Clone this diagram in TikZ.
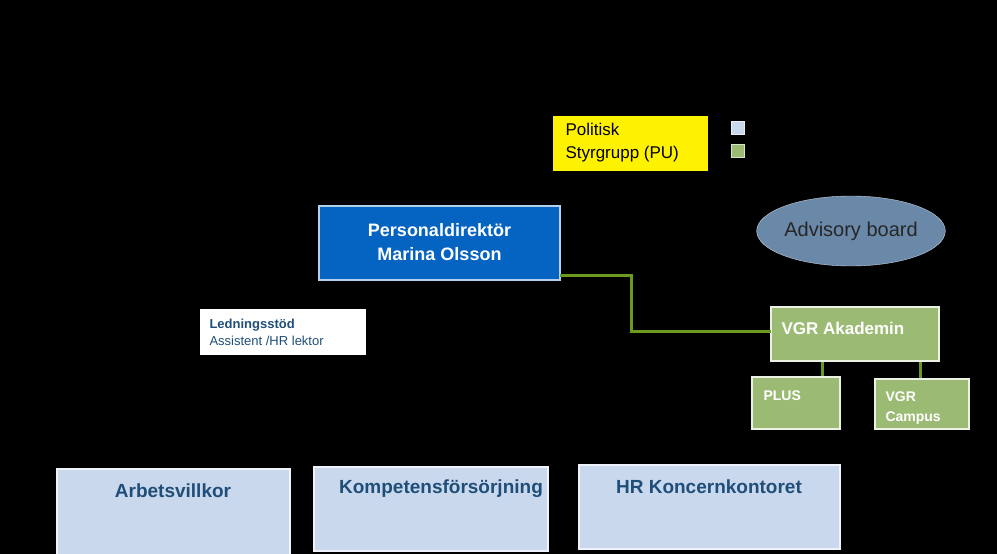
\documentclass[tikz,border=0pt]{standalone}
\usepackage{fontspec}
\setmainfont{Liberation Sans}
\usetikzlibrary{shapes.geometric}
\definecolor{gline}{HTML}{6B9A1E}
\definecolor{gfill}{HTML}{9BBB74}
\definecolor{bfill}{HTML}{0563C1}
\definecolor{lblue}{HTML}{C9D8EC}
\definecolor{dblue}{HTML}{1F4E79}
\definecolor{efill}{HTML}{6A88A8}
\tikzset{
 conn/.style={draw=gline, line width=3pt},
 gbox/.style={fill=gfill, draw=white!80!gfill, line width=1.5pt},
 lbox/.style={fill=lblue, draw=white!70!lblue, line width=1.5pt},
}
\begin{document}
\begin{tikzpicture}[x=1pt,y=-1pt]
\fill[black] (0,0) rectangle (997,554);
\useasboundingbox (0,0) rectangle (997,554);
% yellow
\fill[yellow] (553,116) rectangle (708,171);
\node[anchor=west,align=left,font=\fontsize{17}{23}\selectfont] (pu) at (562,143) {Politisk\\Styrgrupp (PU)};
\fill[lblue,draw=white!60!lblue] (731,121) rectangle (744,134);
\fill[gfill,draw=white!60!gfill] (731,144) rectangle (744,157);
% director
\draw[fill=bfill,draw=white!70!bfill,line width=1.5pt] (319,206) rectangle (560,280);
\node[text=white,align=center,font=\bfseries\fontsize{18}{24}\selectfont] (dir) at (439.5,242) {Personaldirektör\\Marina Olsson};
\coordinate (dirR) at (560,275);
% advisory
\node[ellipse,fill=efill,draw=white!60!efill,minimum width=164,minimum height=70,inner sep=0pt,font=\fontsize{20}{24}\selectfont,text=black!85] (adv) at (851,231) {Advisory board};
% ledningsstöd
\fill[white] (200,309) rectangle (366,355);
\node[anchor=west,align=left,text=dblue,font=\fontsize{13}{17}\selectfont] (led) at (206,332) {\textbf{Ledningsstöd}\\Assistent /HR lektor};
% akademin
\draw[gbox] (771,307) rectangle (939,361);
\node[anchor=west,text=white,font=\bfseries\fontsize{17}{20}\selectfont] (aka) at (778,328) {VGR Akademin};
\coordinate (akaL) at (771,331);
\draw[gbox] (752,377) rectangle (840,429);
\node[anchor=west,text=white,font=\bfseries\fontsize{14}{17}\selectfont] (plus) at (760,396) {PLUS};
\draw[gbox] (875,379) rectangle (969,429);
\node[anchor=west,align=left,text=white,font=\bfseries\fontsize{14}{20}\selectfont] (camp) at (882,408) {VGR\\Campus};
\draw[conn] (dirR) -- (631,275) -- (631,331) -- (akaL);
\draw[conn] (822,362) -- (822,376);
\draw[conn] (920,362) -- (920,378);
% bottom
\draw[lbox] (57,469) rectangle (290,556);
\node[text=dblue,font=\bfseries\fontsize{19}{22}\selectfont] (arb) at (173,491) {Arbetsvillkor};
\draw[lbox] (314,467) rectangle (548,551);
\node[text=dblue,font=\bfseries\fontsize{19}{22}\selectfont] (komp) at (441,489) {Kompetensförsörjning};
\draw[lbox] (579,465) rectangle (840,549);
\node[text=dblue,font=\bfseries\fontsize{19}{22}\selectfont] (hr) at (709,487) {HR Koncernkontoret};
\end{tikzpicture}
\end{document}
